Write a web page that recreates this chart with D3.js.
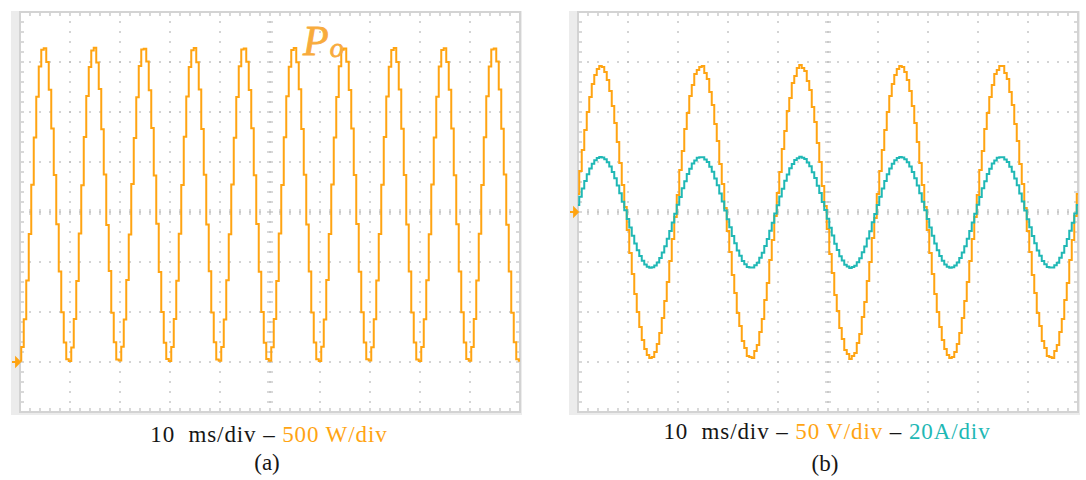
<!DOCTYPE html>
<html lang="en">
<head>
  <meta charset="UTF-8" />
  <title>Scope captures</title>
  <script src="https://d3js.org/d3.v7.min.js"></script>
  <style>
    body { margin: 0; background: #fff; }
    svg { display: block; }
  </style>
</head>
<body>
<script>
  // one sample every 0.5 ms, 10 ms per division
  const sampleMs = 0.5;

  // (a) output power, W
  const powerW = [
    12,150,427,816,1280,1773,2246,2653,2955,3122,3138,3000,2723,2334,1870,1377,904,497,195,28,
    10,146,431,810,1285,1768,2250,2660,2949,3115,3142,2994,2730,2328,1876,1370,910,492,198,25,
    14,152,424,820,1276,1779,2240,2648,2960,3126,3132,3006,2718,2340,1864,1382,900,501,192,30,
    11,149,429,813,1282,1770,2252,2656,2951,3118,3140,2997,2726,2330,1873,1374,907,494,197,26,
    13,151,425,818,1278,1776,2243,2650,2958,3124,3135,3003,2720,2337,1867,1380,902,499,193,29,
    12,147,430,811,1284,1771,2248,2658,2952,3120,3141,2998,2728,2331,1872,1375,906,495,196,27,
    10,153,426,819,1279,1774,2244,2651,2957,3123,3136,3002,2721,2336,1869,1379,903,498,194,28,
    14,148,428,814,1281,1772,2249,2655,2953,3119,3139,2999,2725,2333,1871,1376,905,496,196,26,
    11,150,427,817,1277,1775,2245,2652,2956,3121,3137,3001,2722,2335,1868,1378,904,497,195,29,
    13,149,429,815,1283,1769,2247,2657,2954,3125,3134,3004,2724,2332,1874,1373,906,493,197,27,
    12
  ];

  // (b) grid voltage, V
  const voltageV = [
    18,41,62,82,100,115,128,137,143,146,145,140,132,121,106,89,70,49,27,5,
    -18,-41,-62,-82,-100,-115,-128,-137,-143,-146,-145,-140,-132,-121,-106,-89,-70,-49,-27,-5,
    17,42,61,83,99,116,127,138,142,145,146,139,133,120,107,88,71,48,28,4,
    -19,-40,-63,-81,-101,-114,-129,-136,-144,-145,-146,-139,-133,-120,-107,-88,-71,-48,-28,-4,
    19,40,63,81,101,114,129,136,144,147,144,141,131,122,105,90,69,50,26,6,
    -17,-42,-61,-83,-99,-116,-127,-138,-142,-147,-144,-141,-131,-122,-105,-90,-69,-50,-26,-6,
    18,41,62,82,100,116,128,137,143,146,145,140,132,121,106,89,70,49,27,5,
    -18,-41,-62,-82,-100,-115,-128,-137,-143,-146,-145,-140,-132,-121,-106,-89,-70,-49,-27,-5,
    17,42,61,83,99,115,127,138,142,146,146,139,133,120,107,88,71,48,28,4,
    -19,-40,-63,-81,-101,-114,-129,-136,-144,-145,-146,-139,-133,-120,-107,-88,-71,-48,-28,-4,
    18
  ];

  // (b) grid current, A
  const currentA = [
    2.8,6.1,9.4,12.4,15.1,17.4,19.3,20.7,21.6,22.0,21.8,21.1,19.9,18.2,16.0,13.5,10.6,7.5,4.1,0.7,
    -2.8,-6.2,-9.5,-12.6,-15.3,-17.6,-19.5,-21.0,-21.9,-22.3,-22.1,-21.4,-20.2,-18.4,-16.2,-13.7,-10.7,-7.6,-4.2,-0.7,
    2.9,6.0,9.5,12.3,15.2,17.3,19.4,20.6,21.7,21.9,21.9,21.0,20.0,18.1,16.1,13.4,10.7,7.4,4.2,0.6,
    -2.9,-6.1,-9.6,-12.5,-15.4,-17.5,-19.6,-20.9,-22.0,-22.2,-22.2,-21.3,-20.3,-18.3,-16.3,-13.6,-10.8,-7.5,-4.3,-0.6,
    2.7,6.2,9.3,12.5,15.0,17.5,19.2,20.8,21.5,22.1,21.7,21.2,19.8,18.3,15.9,13.6,10.5,7.6,4.0,0.8,
    -2.7,-6.3,-9.4,-12.7,-15.2,-17.7,-19.4,-21.1,-21.8,-22.4,-22.0,-21.5,-20.1,-18.5,-16.1,-13.8,-10.6,-7.7,-4.1,-0.8,
    2.8,6.1,9.4,12.4,15.1,17.4,19.3,20.7,21.6,22.0,21.8,21.1,19.9,18.2,16.0,13.5,10.6,7.5,4.1,0.7,
    -2.8,-6.2,-9.5,-12.6,-15.3,-17.6,-19.5,-21.0,-21.9,-22.3,-22.1,-21.4,-20.2,-18.4,-16.2,-13.7,-10.7,-7.6,-4.2,-0.7,
    2.9,6.0,9.5,12.3,15.2,17.3,19.4,20.6,21.7,21.9,21.9,21.0,20.0,18.1,16.1,13.4,10.7,7.4,4.2,0.6,
    -2.9,-6.1,-9.6,-12.5,-15.4,-17.5,-19.6,-20.9,-22.0,-22.2,-22.2,-21.3,-20.3,-18.3,-16.3,-13.6,-10.8,-7.5,-4.3,-0.6,
    2.8
  ];

  const captionA = [["10  ms/div – ", "ink"], ["500 W/div", "orange"]];
  const captionB = [["10  ms/div – ", "ink"], ["50 V/div", "orange"], [" – ", "ink"], ["20A/div", "teal"]];
  const panelTags = ["(a)", "(b)"];

  const colors = { ink: "#161616", orange: "#ffa412", teal: "#1fb8b5", grid: "#bdbdbd" };

  const svg = d3.select("body").append("svg")
    .attr("width", 1086)
    .attr("height", 480);

  // draws the scope screen: gray bezel, white face, dotted grid, ticks
  function scope(id, x0, y0, yDomain) {
    const w = 500, h = 400;
    const xs = d3.scaleLinear().domain([0, 100]).range([x0, x0 + w]);
    const ys = d3.scaleLinear().domain(yDomain).range([y0 + h, y0]);
    const div = (yDomain[1] - yDomain[0]) / 8;
    const g = svg.append("g");

    g.append("rect")
      .attr("x", x0 - 9).attr("y", y0 - 1)
      .attr("width", w + 11).attr("height", h + 4)
      .attr("fill", "#ececec");
    g.append("rect")
      .attr("x", x0).attr("y", y0)
      .attr("width", w).attr("height", h)
      .attr("fill", "#fff");

    const xMinor = d3.range(2, 100, 2);
    const yMinor = d3.range(1, 40).map(i => yDomain[0] + i * div / 5);
    const xMajor = d3.range(10, 100, 10);
    const yMajor = d3.range(1, 8).map(i => yDomain[0] + i * div);

    // dots along the division lines
    xMajor.forEach(t => {
      g.selectAll(null).data(yMinor).enter().append("rect")
        .attr("x", xs(t) - 0.8).attr("y", d => ys(d) - 0.8)
        .attr("width", 1.6).attr("height", 1.6)
        .attr("fill", colors.grid);
    });
    yMajor.forEach(v => {
      g.selectAll(null).data(xMinor).enter().append("rect")
        .attr("x", d => xs(d) - 0.8).attr("y", ys(v) - 0.8)
        .attr("width", 1.6).attr("height", 1.6)
        .attr("fill", colors.grid);
    });

    const tick = (x1, y1, x2, y2) => g.append("line")
      .attr("x1", x1).attr("y1", y1).attr("x2", x2).attr("y2", y2)
      .attr("stroke", "#c4c4c4").attr("stroke-width", 1.3);

    // ticks on the four edges
    xMinor.forEach(t => {
      tick(xs(t), y0, xs(t), y0 + 4);
      tick(xs(t), y0 + h, xs(t), y0 + h - 4);
    });
    yMinor.forEach(v => {
      tick(x0, ys(v), x0 + 4, ys(v));
      tick(x0 + w, ys(v), x0 + w - 4, ys(v));
    });
    // ticks on the centre cross
    const yMid = (yDomain[0] + yDomain[1]) / 2;
    xMinor.forEach(t => tick(xs(t), ys(yMid) - 3, xs(t), ys(yMid) + 3));
    yMinor.forEach(v => tick(xs(50) - 3, ys(v), xs(50) + 3, ys(v)));

    g.append("rect")
      .attr("x", x0).attr("y", y0)
      .attr("width", w).attr("height", h)
      .attr("fill", "none")
      .attr("stroke", "#d3d3d3").attr("stroke-width", 2);

    svg.append("clipPath").attr("id", id)
      .append("rect").attr("x", x0).attr("y", y0).attr("width", w).attr("height", h);

    return { g, xs, ys, x0 };
  }

  function trace(sc, id, values, yScale, color) {
    const line = d3.line()
      .x((d, i) => sc.xs(i * sampleMs))
      .y(d => yScale(d))
      .curve(d3.curveStep);
    sc.g.append("path")
      .datum(values)
      .attr("clip-path", "url(#" + id + ")")
      .attr("d", line)
      .attr("fill", "none")
      .attr("stroke", color)
      .attr("stroke-width", 2)
      .attr("stroke-linejoin", "miter");
  }

  function zeroMarker(sc, yScale) {
    const y = yScale(0), x = sc.x0;
    sc.g.append("path")
      .attr("d", `M${x - 8},${y}H${x}M${x - 4},${y - 4}L${x},${y}L${x - 4},${y + 4}Z`)
      .attr("fill", colors.orange)
      .attr("stroke", colors.orange)
      .attr("stroke-width", 1.8);
  }

  function caption(cx, y, parts, tag, tagY) {
    const t = svg.append("text")
      .attr("x", cx).attr("y", y)
      .attr("text-anchor", "middle")
      .attr("font-family", "'Liberation Serif', serif")
      .attr("font-size", 23)
      .attr("letter-spacing", 0.9)
      .attr("xml:space", "preserve")
      .style("white-space", "pre");
    parts.forEach(([s, c]) => t.append("tspan").attr("fill", colors[c]).text(s));
    svg.append("text")
      .attr("x", cx - 2).attr("y", tagY)
      .attr("text-anchor", "middle")
      .attr("font-family", "'Liberation Serif', serif")
      .attr("font-size", 23)
      .attr("fill", colors.ink)
      .text(tag);
  }

  // (a)
  const a = scope("clipA", 20, 12, [-500, 3500]);
  trace(a, "clipA", powerW, a.ys, colors.orange);
  zeroMarker(a, a.ys);
  a.g.append("text")
    .attr("x", a.xs(56.6)).attr("y", a.ys(3070))
    .attr("font-family", "'Liberation Serif', serif")
    .attr("font-style", "italic")
    .attr("font-size", 42)
    .attr("fill", "#f8ab3c")
    .attr("stroke", "#f8ab3c")
    .attr("stroke-width", 0.8)
    .text("P")
    .append("tspan")
    .attr("font-size", 28)
    .attr("dx", 1).attr("dy", 2)
    .text("o");

  // (b)
  const b = scope("clipB", 578, 12, [-200, 200]);
  const ysCurrent = d3.scaleLinear().domain([-80, 80]).range(b.ys.range());
  trace(b, "clipB", voltageV, b.ys, colors.orange);
  trace(b, "clipB", currentA, ysCurrent, colors.teal);
  zeroMarker(b, b.ys);

  caption(269, 442, captionA, panelTags[0], 470);
  caption(827, 439, captionB, panelTags[1], 471);
</script>
</body>
</html>
